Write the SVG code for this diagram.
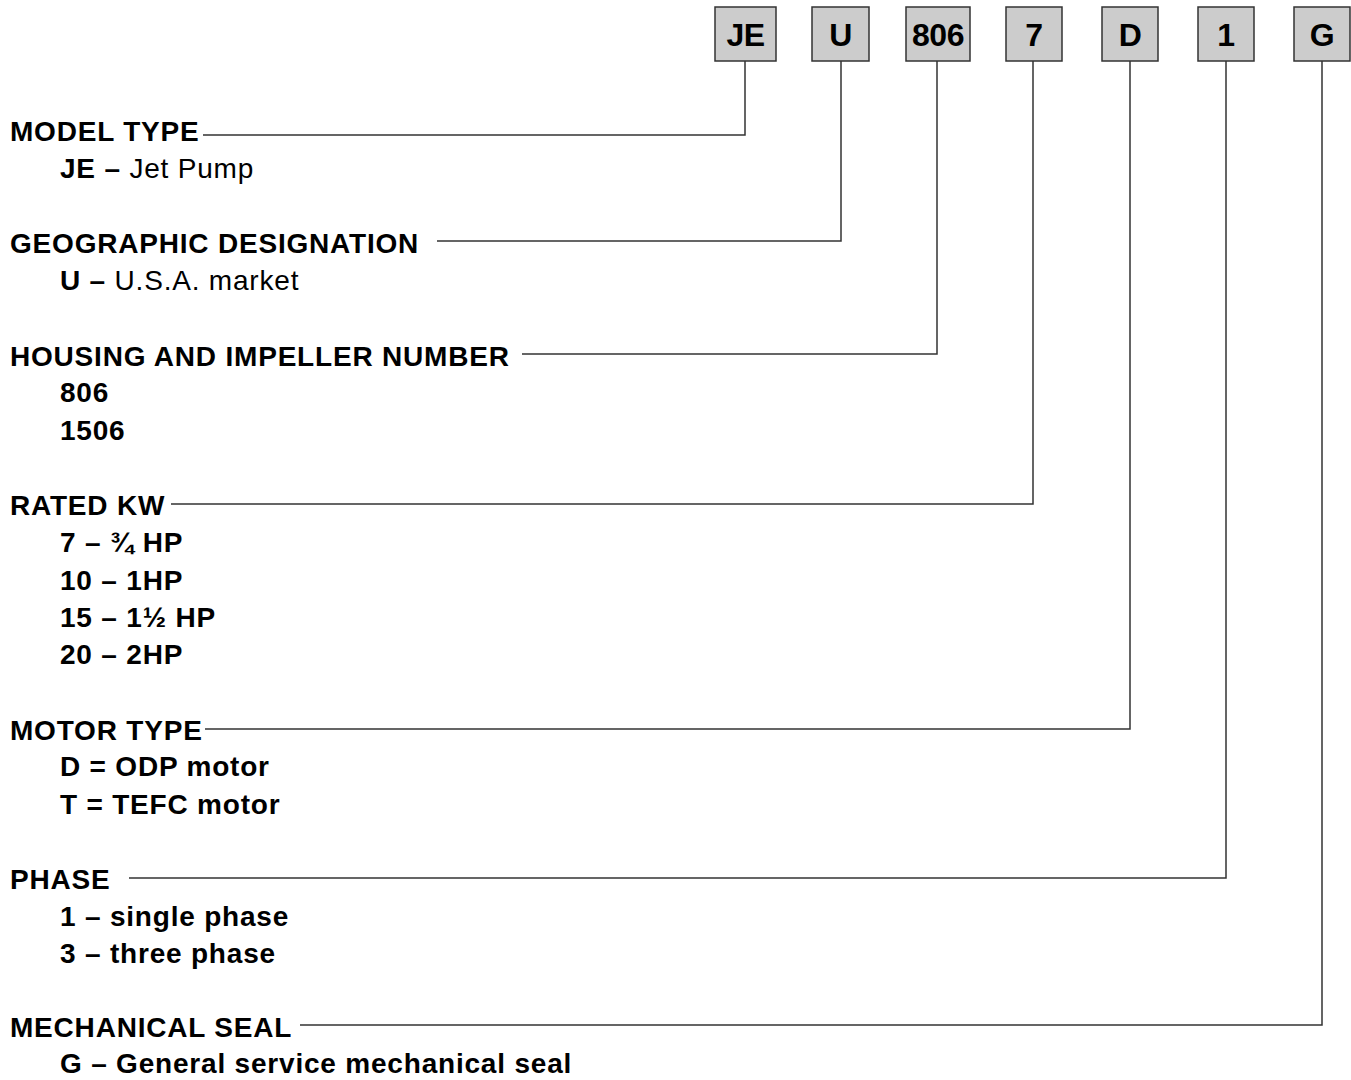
<svg xmlns="http://www.w3.org/2000/svg" width="1351" height="1080" viewBox="0 0 1351 1080">
<style>
.bg{fill:#ffffff}
.box rect{fill:#cccccc;stroke:#333333;stroke-width:1.5}
.box text{font-family:"Liberation Sans",Arial,sans-serif;font-weight:bold;font-size:32px;letter-spacing:-0.5px;fill:#000000;text-anchor:middle}
.conn path{fill:none;stroke:#333333;stroke-width:1.5}
.h{font-family:"Liberation Sans",Arial,sans-serif;font-weight:bold;font-size:28px;letter-spacing:0.8px;fill:#000000}
.s{font-family:"Liberation Sans",Arial,sans-serif;font-weight:bold;font-size:28px;letter-spacing:0.8px;fill:#000000}
.n{font-weight:normal}
</style>
<rect class="bg" x="0" y="0" width="1351" height="1080"/>
<g id="code-boxes">
<g id="box-JE" class="box"><rect x="715" y="7" width="61" height="54"/><text x="745.5" y="46">JE</text></g>
<g id="box-U" class="box"><rect x="812" y="7" width="57" height="54"/><text x="840.5" y="46">U</text></g>
<g id="box-806" class="box"><rect x="906" y="7" width="64" height="54"/><text x="938" y="46">806</text></g>
<g id="box-7" class="box"><rect x="1006" y="7" width="56" height="54"/><text x="1034" y="46">7</text></g>
<g id="box-D" class="box"><rect x="1102" y="7" width="56" height="54"/><text x="1130" y="46">D</text></g>
<g id="box-1" class="box"><rect x="1198" y="7" width="56" height="54"/><text x="1226" y="46">1</text></g>
<g id="box-G" class="box"><rect x="1294" y="7" width="56" height="54"/><text x="1322" y="46">G</text></g>
</g>
<g id="connectors" class="conn">
<path d="M745 61 V135 H203"/>
<path d="M841 61 V241 H437"/>
<path d="M937 61 V354 H522"/>
<path d="M1033 61 V504 H171"/>
<path d="M1130 61 V729 H205"/>
<path d="M1226 61 V878 H129"/>
<path d="M1322 61 V1025 H300"/>
</g>
<g id="model-type">
<text class="h" x="10" y="141">MODEL TYPE</text>
<text class="s" x="60" y="178">JE – <tspan class="n">Jet Pump</tspan></text>
</g>
<g id="geographic-designation">
<text class="h" x="10" y="253">GEOGRAPHIC DESIGNATION</text>
<text class="s" x="60" y="290">U – <tspan class="n">U.S.A. market</tspan></text>
</g>
<g id="housing-impeller">
<text class="h" x="10" y="366">HOUSING AND IMPELLER NUMBER</text>
<text class="s" x="60" y="402">806</text>
<text class="s" x="60" y="440">1506</text>
</g>
<g id="rated-kw">
<text class="h" x="10" y="515">RATED KW</text>
<text class="s" x="60" y="552">7 – ¾ HP</text>
<text class="s" x="60" y="590">10 – 1HP</text>
<text class="s" x="60" y="627">15 – 1½ HP</text>
<text class="s" x="60" y="664">20 – 2HP</text>
</g>
<g id="motor-type">
<text class="h" x="10" y="740">MOTOR TYPE</text>
<text class="s" x="60" y="776">D = ODP motor</text>
<text class="s" x="60" y="814">T = TEFC motor</text>
</g>
<g id="phase">
<text class="h" x="10" y="889">PHASE</text>
<text class="s" x="60" y="926">1 – single phase</text>
<text class="s" x="60" y="963">3 – three phase</text>
</g>
<g id="mechanical-seal">
<text class="h" x="10" y="1037">MECHANICAL SEAL</text>
<text class="s" x="60" y="1073">G – General service mechanical seal</text>
</g>
</svg>
